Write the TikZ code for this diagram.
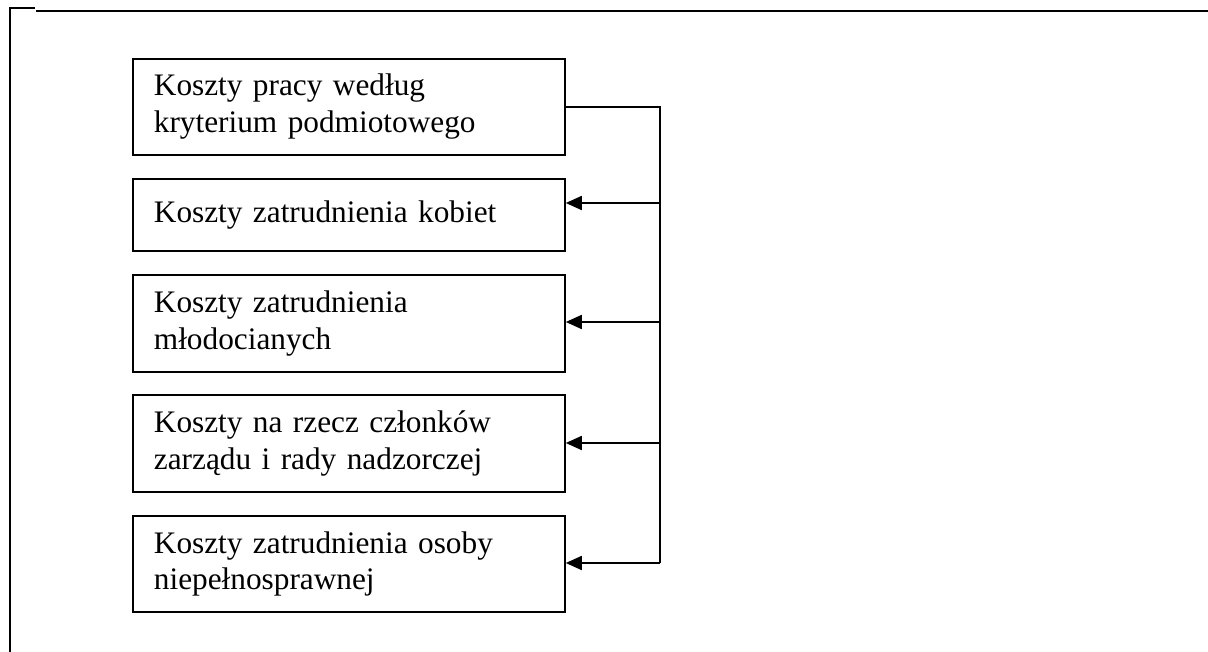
\documentclass[tikz,border=0pt]{standalone}
\usepackage{fontspec}
\setmainfont{Liberation Serif}
\usetikzlibrary{arrows.meta}
\begin{document}
\begin{tikzpicture}[x=1pt,y=-1pt,
  frame/.style={line width=2pt},
  costbox/.style={draw,line width=1.8pt,rectangle,anchor=north west,
    minimum width=432pt,text width=390pt,inner xsep=21pt,inner ysep=0pt,
    align=left,font=\fontsize{31.3}{36.8}\selectfont},
  link/.style={line width=1.7pt},
  arr/.style={link,-{Triangle[length=16pt,width=14pt]}}]
\useasboundingbox (0,0) rectangle (1208,652);
% outer frame (top edge and left edge)
\draw[frame] (10,8.5) -- (35,8.5);
\draw[frame] (36,10.7) -- (1208,10.7);
\draw[frame] (10,7.5) -- (10,652);
% cost categories
\node[costbox,minimum height=96pt] (b1) at (132,58) {Koszty pracy według\\kryterium podmiotowego};
\node[costbox,minimum height=72pt] (b2) at (132,178) {Koszty zatrudnienia kobiet};
\node[costbox,minimum height=97pt] (b3) at (132,274) {Koszty zatrudnienia\\młodocianych};
\node[costbox,minimum height=97pt] (b4) at (132,394) {Koszty na rzecz członków\\zarządu i rady nadzorczej};
\node[costbox,minimum height=96pt] (b5) at (132,515) {Koszty zatrudnienia osoby\\niepełnosprawnej};
% bus junctions
\coordinate (j2) at (660,203);
\coordinate (j3) at (660,322);
\coordinate (j4) at (660,443);
\coordinate (j5) at (660,563);
\draw[link] (b1.east) -| (j5);
\draw[arr] (j2) -- (j2 -| b2.east);
\draw[arr] (j3) -- (j3 -| b3.east);
\draw[arr] (j4) -- (j4 -| b4.east);
\draw[arr] (j5) -- (j5 -| b5.east);
\end{tikzpicture}
\end{document}
